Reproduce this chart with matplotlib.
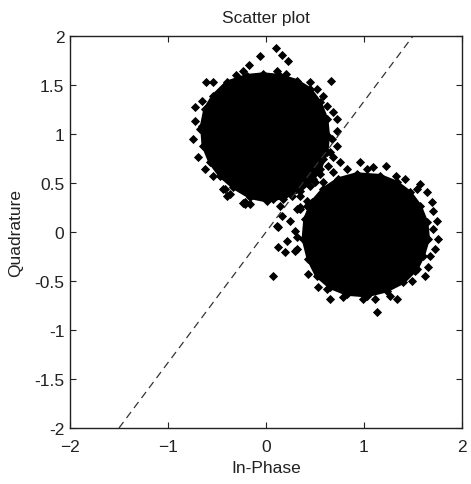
import matplotlib

matplotlib.use("Agg")

import matplotlib.pyplot as plt

# Dense (solid black) part of each cloud, outline, data units
core_a_x = [-0.027, 0.143, 0.313, 0.449, 0.551, 0.619, 0.636, 0.619, 0.551, 0.483,
            0.347, 0.177, 0.007, -0.163, -0.334, -0.469, -0.571, -0.640, -0.656, -0.622,
            -0.538, -0.401, -0.197]
core_a_y = [1.612, 1.595, 1.544, 1.459, 1.323, 1.153, 0.983, 0.813, 0.643, 0.541,
            0.421, 0.354, 0.319, 0.354, 0.456, 0.574, 0.711, 0.881, 1.085, 1.255,
            1.391, 1.527, 1.595]

core_b_x = [0.925, 1.163, 1.333, 1.469, 1.571, 1.639, 1.656, 1.605, 1.537, 1.401,
            1.231, 1.027, 0.823, 0.653, 0.517, 0.432, 0.381, 0.398, 0.466, 0.585,
            0.738]
core_b_y = [0.592, 0.575, 0.507, 0.405, 0.269, 0.099, -0.071, -0.242, -0.378, -0.513,
            -0.599, -0.650, -0.633, -0.564, -0.446, -0.276, -0.071, 0.133, 0.303, 0.439,
            0.541]

# Scattered samples around the first cloud
cloud_a_x = [0.099, -0.058, 0.167, 0.221, -0.173, -0.231, 0.115, 0.204, -0.309, 0.663,
             -0.615, -0.538, 0.449, 0.517, 0.585, -0.656, -0.724, 0.619, 0.687, -0.724,
             0.721, 0.721, -0.673, -0.742, 0.670, 0.721, -0.691, -0.622, 0.687, 0.636,
             -0.538, -0.436, -0.367, -0.231, -0.163, -0.061, 0.075, 0.143, 0.262, 0.415,
             0.313, 0.245, 0.109, -0.214, -0.418, -0.401, -0.214]
cloud_a_y = [1.878, 1.799, 1.809, 1.748, 1.707, 1.646, 1.640, 1.612, 1.602, 1.544,
             1.527, 1.527, 1.527, 1.459, 1.385, 1.340, 1.272, 1.289, 1.221, 1.136,
             1.153, 1.034, 1.051, 0.949, 0.949, 0.881, 0.762, 0.643, 0.762, 0.677,
             0.575, 0.439, 0.388, 0.296, 0.286, 0.370, 0.337, 0.268, 0.370, 0.268,
             0.235, 0.115, 0.064, 0.303, 0.439, 0.370, 0.286]

# Scattered samples around the second cloud
cloud_b_x = [1.227, 1.329, 1.418, 1.537, 1.571, 1.640, 1.691, 1.707, 1.742, 1.707,
             1.758, 1.724, 1.673, 1.656, 1.622, 1.520, 1.487, 1.334, 1.265, 1.130,
             1.112, 0.993, 0.789, 0.653, 0.619, 0.534, 0.432, 0.313, 0.296, 0.347,
             0.415, 0.500, 0.585, 0.687, 0.755, 0.823, 0.959, 1.027, 1.095, 0.160,
             0.126, 0.211, 0.313, 0.126, 0.194, 0.068, 0.347, 0.296]
cloud_b_y = [0.677, 0.574, 0.541, 0.439, 0.490, 0.405, 0.303, 0.217, 0.115, 0.031,
             -0.071, -0.173, -0.242, -0.360, -0.446, -0.395, -0.497, -0.684, -0.650, -0.820,
             -0.684, -0.684, -0.666, -0.684, -0.582, -0.564, -0.429, -0.173, 0.013, 0.235,
             0.320, 0.507, 0.507, 0.609, 0.711, 0.643, 0.711, 0.643, 0.660, 0.166,
             0.048, -0.089, -0.054, -0.156, -0.207, -0.452, 0.252, -0.191]

# Samples in the band where the two clouds meet
bridge_x = [0.211, 0.279, 0.347, 0.483, 0.585, 0.653, 0.449, 0.551, 0.177, 0.347]
bridge_y = [0.405, 0.439, 0.541, 0.643, 0.745, 0.813, 0.473, 0.592, 0.337, 0.370]

# Dashed boundary line
boundary_x = [-1.5, 1.5]
boundary_y = [-2.0, 2.0]

x_ticks = [-2, -1, 0, 1, 2]
y_ticks = [-2, -1.5, -1, -0.5, 0, 0.5, 1, 1.5, 2]
y_tick_labels = ["-2", "-1.5", "-1", "-0.5", "0", "0.5", "1", "1.5", "2"]

TEXT_COLOR = "#222222"
FONT_SIZE = 12.5

plt.rcParams["font.family"] = ["Liberation Sans", "DejaVu Sans"]

fig = plt.figure(figsize=(4.71, 4.85), dpi=100)
fig.patch.set_facecolor("white")
ax = fig.add_axes([70 / 471, 56 / 485, 392 / 471, 392 / 485])

ax.fill(core_a_x, core_a_y, color="black", linewidth=2.5)
ax.fill(core_b_x, core_b_y, color="black", linewidth=2.5)
for xs, ys in [(core_a_x, core_a_y), (core_b_x, core_b_y), (cloud_a_x, cloud_a_y),
               (cloud_b_x, cloud_b_y), (bridge_x, bridge_y)]:
    ax.plot(xs, ys, linestyle="none", marker="D", markersize=3.6,
            color="black", markeredgewidth=0.6)
ax.plot(boundary_x, boundary_y, color="#333333", linewidth=0.9, linestyle=(0, (6, 4)))

ax.set_xlim(-2, 2)
ax.set_ylim(-2, 2)
ax.set_xticks(x_ticks)
ax.set_yticks(y_ticks)
ax.set_yticklabels(y_tick_labels)
ax.tick_params(direction="in", length=4, width=0.8, top=True, right=True,
               labelsize=FONT_SIZE, colors=TEXT_COLOR)
ax.tick_params(axis="x", pad=8)
ax.tick_params(axis="y", pad=4)
for spine in ax.spines.values():
    spine.set_linewidth(1.0)
    spine.set_color(TEXT_COLOR)

ax.set_title("Scatter plot", fontsize=FONT_SIZE, color=TEXT_COLOR, pad=10)
ax.set_xlabel("In-Phase", fontsize=FONT_SIZE, color=TEXT_COLOR, labelpad=4)
ax.set_ylabel("Quadrature", fontsize=FONT_SIZE, color=TEXT_COLOR, labelpad=8)

fig.savefig("out.png", dpi=100, facecolor="white")
